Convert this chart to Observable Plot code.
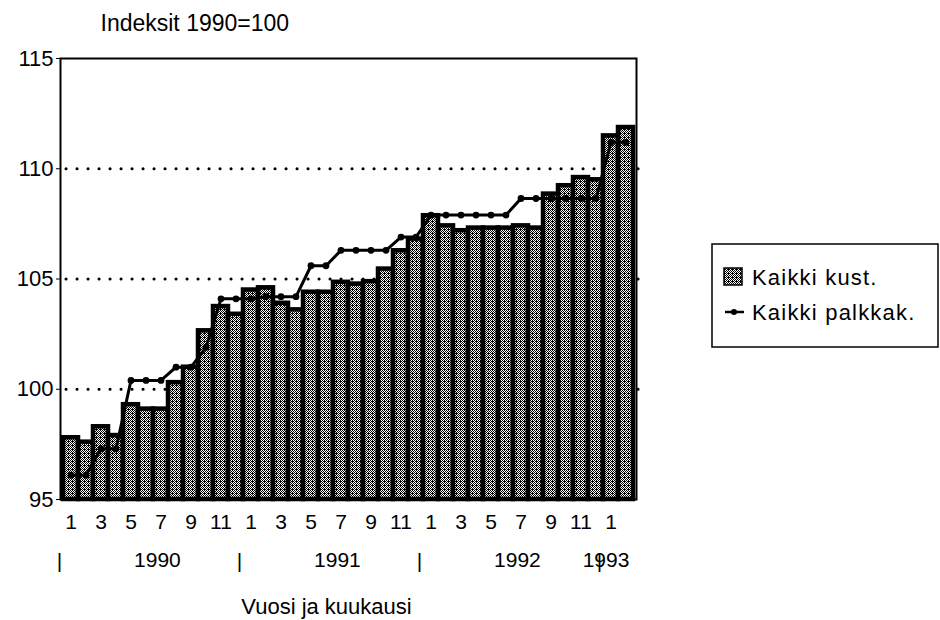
<!DOCTYPE html>
<html><head><meta charset="utf-8">
<script src="https://cdn.jsdelivr.net/npm/d3@7"></script>
<script src="https://cdn.jsdelivr.net/npm/@observablehq/plot@0.6"></script>
<style>body{margin:0;background:#fff;} svg{overflow:visible}</style>
</head><body><div id="chart"></div>
<script>
const years = [1990,1990,1990,1990,1990,1990,1990,1990,1990,1990,1990,1990,
               1991,1991,1991,1991,1991,1991,1991,1991,1991,1991,1991,1991,
               1992,1992,1992,1992,1992,1992,1992,1992,1992,1992,1992,1992,
               1993,1993];
const months = [1,2,3,4,5,6,7,8,9,10,11,12,
                1,2,3,4,5,6,7,8,9,10,11,12,
                1,2,3,4,5,6,7,8,9,10,11,12,
                1,2];
const kaikkiKust = [97.8,97.6,98.3,97.9,99.3,99.1,99.1,100.3,101.0,102.65,103.75,103.4,
                    104.5,104.6,103.9,103.6,104.4,104.4,104.85,104.77,104.88,105.45,106.28,106.81,
                    107.87,107.41,107.19,107.31,107.31,107.31,107.41,107.31,108.85,109.23,109.6,109.5,
                    111.49,111.87];
const kaikkiPalkkak = [96.1,96.1,97.3,97.3,100.4,100.4,100.4,101.0,101.0,101.9,104.1,104.1,
                       104.1,104.2,104.2,104.2,105.6,105.6,106.3,106.3,106.3,106.3,106.9,106.9,
                       107.9,107.9,107.9,107.9,107.9,107.9,108.65,108.65,108.65,108.65,108.65,108.65,
                       111.2,111.2];
const yTicks = [95,100,105,110,115];
const gridValues = [100,105,110];
const yearLabels = ["1990","1991","1992"];
const yearLabelIndex = [6,18,30];
const lastYearLabel = ["1993"];
const lastYearIndex = [36];
const separatorIndex = [0,12,24,36];
const seriesNames = ["Kaikki kust.","Kaikki palkkak."];

const data = months.map((m,i)=>({i, year: years[i], month: m, kust: kaikkiKust[i], palk: kaikkiPalkkak[i]}));
const oddTicks = data.filter(d=>d.month%2===1).map(d=>d.i);
const W=940,H=620,mL=60,mR=304,mT=58,mB=121;
const bw=(W-mL-mR)/data.length;
const font='"Liberation Sans", Arial, Helvetica, sans-serif';

const chart = Plot.plot({
  width:W, height:H, marginLeft:mL, marginRight:mR, marginTop:mT, marginBottom:mB,
  style:{fontFamily:font, fontSize:"20px", color:"#000", background:"#fff", overflow:"visible"},
  x:{type:"band", domain:data.map(d=>d.i), padding:0},
  y:{domain:[95,115]},
  marks:[
    Plot.ruleY(gridValues,{stroke:"#000", strokeWidth:3, strokeDasharray:"0.1 10.9", strokeLinecap:"round", dx:6}),
    Plot.barY(data,{x:"i", y1:95, y2:"kust", fill:"url(#chk)", stroke:"#000", strokeWidth:4.5}),
    Plot.line(data,{x:"i", y:"palk", stroke:"#000", strokeWidth:3}),
    Plot.dot(data,{x:"i", y:"palk", r:3.4, fill:"#000", stroke:null}),
    Plot.frame({stroke:"#000", strokeWidth:2}),
    Plot.axisY({ticks:yTicks, tickSize:4, tickPadding:3, fontSize:22, letterSpacing:"1.5px", label:null}),
    Plot.axisX({ticks:oddTicks, tickFormat:i=>String(months[i]), tickSize:0, tickPadding:15, fontSize:21, letterSpacing:"0.5px", label:null}),
    Plot.text(yearLabels,{x:(d,k)=>yearLabelIndex[k], text:d=>d, frameAnchor:"bottom", lineAnchor:"middle", dy:61, dx:-bw/2+4, fontSize:21, letterSpacing:"1px"}),
    Plot.text(lastYearLabel,{x:(d,k)=>lastYearIndex[k], text:d=>d, frameAnchor:"bottom", lineAnchor:"middle", dy:61, dx:-5, fontSize:21, letterSpacing:"0.5px"}),
    Plot.text(separatorIndex,{x:d=>d, text:()=>"|", frameAnchor:"bottom", lineAnchor:"middle", dy:62, dx:-bw/2-4, fontSize:21}),
    Plot.text(["Vuosi ja kuukausi"],{frameAnchor:"bottom", lineAnchor:"middle", dy:107, dx:-22, fontSize:22, letterSpacing:"1px"}),
    Plot.text(["Indeksit 1990=100"],{frameAnchor:"top-left", textAnchor:"start", lineAnchor:"middle", dx:40, dy:-35, fontSize:23, letterSpacing:"1.7px"})
  ]
});
document.getElementById("chart").appendChild(chart);

const svg = d3.select(chart);
const defs = svg.insert("defs",":first-child");
const pat = defs.append("pattern").attr("id","chk").attr("patternUnits","userSpaceOnUse")
  .attr("width",4).attr("height",4);
pat.append("rect").attr("width",4).attr("height",4).attr("fill","#fff");
[[0,0],[2,0],[1,1],[3,1],[0,2],[2,2],[1,3],[3,3],[0,1]].forEach(([x,y])=>
  pat.append("rect").attr("x",x).attr("y",y).attr("width",1).attr("height",1).attr("fill","#000"));

// legend
const lg = svg.append("g").attr("font-family",font).attr("font-size",22).attr("letter-spacing","1.2px").attr("text-anchor","start");
lg.append("rect").attr("x",712).attr("y",244).attr("width",226).attr("height",103).attr("fill","#fff").attr("stroke","#000").attr("stroke-width",1.5);
lg.append("rect").attr("x",724).attr("y",268).attr("width",18).attr("height",17).attr("fill","url(#chk)").attr("stroke","#000").attr("stroke-width",1.5);
lg.append("text").attr("x",752).attr("y",277).attr("dy","0.35em").text(seriesNames[0]);
lg.append("line").attr("x1",725).attr("x2",744).attr("y1",312).attr("y2",312).attr("stroke","#000").attr("stroke-width",2.5);
lg.append("circle").attr("cx",734).attr("cy",312).attr("r",3).attr("fill","#000");
lg.append("text").attr("x",752).attr("y",312).attr("dy","0.35em").text(seriesNames[1]);
</script></body></html>
